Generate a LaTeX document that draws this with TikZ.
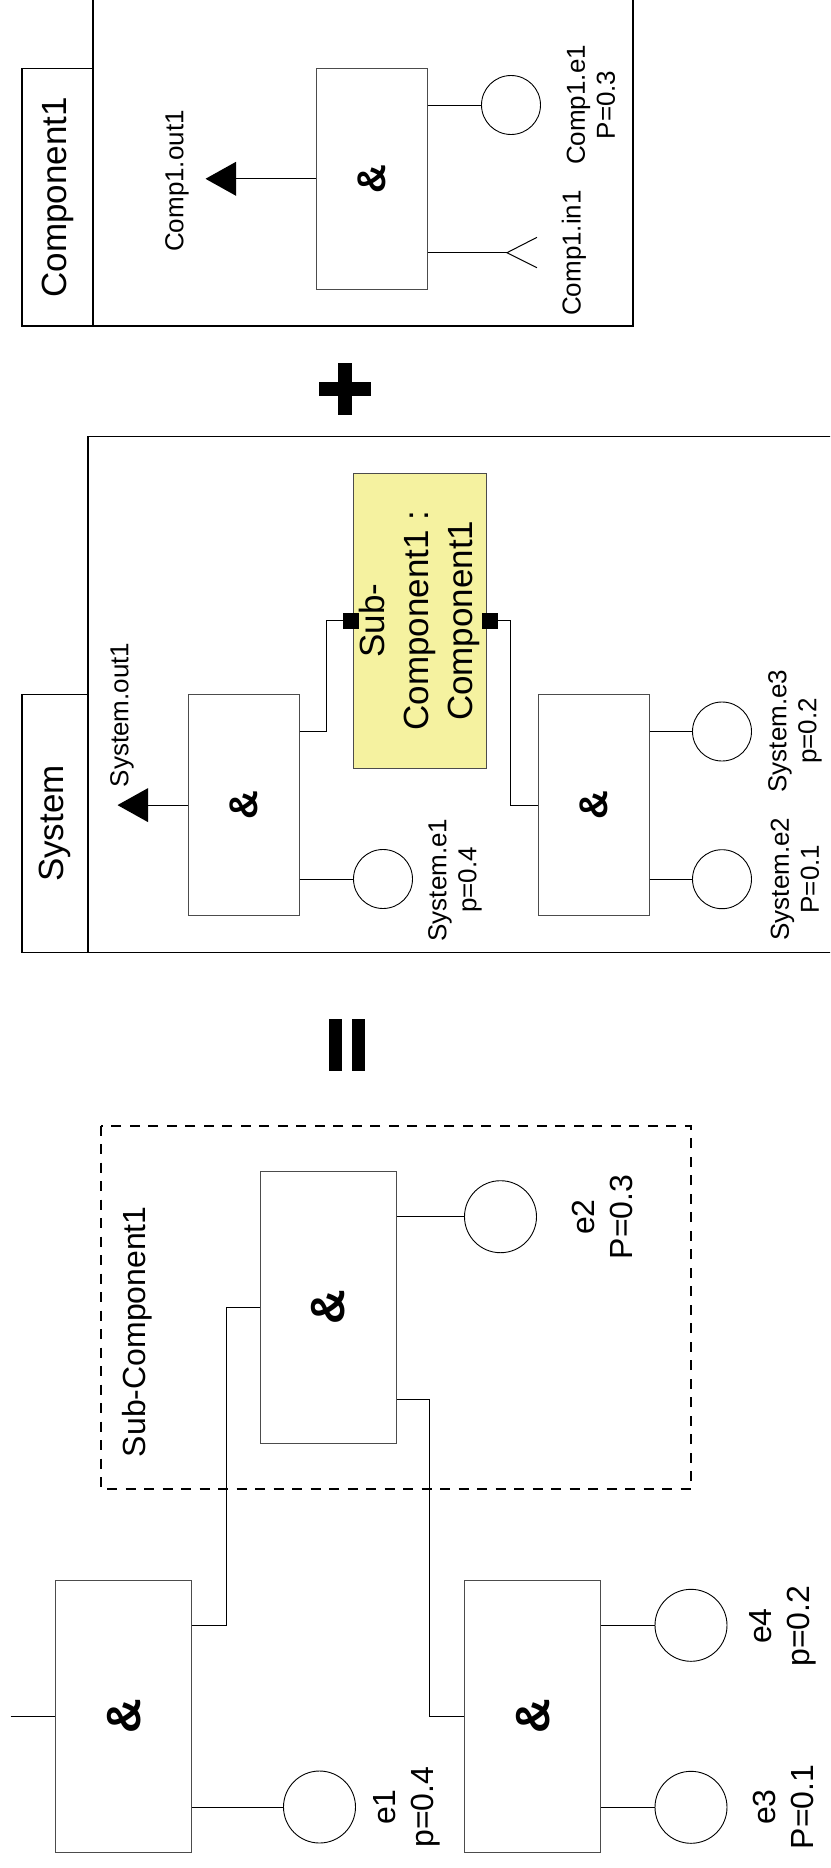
\documentclass[tikz,border=0pt]{standalone}
\usepackage{fontspec}
\setmainfont{Liberation Sans}
\usepackage{graphicx}
\definecolor{subyellow}{RGB}{245,242,160}
\begin{document}
\begin{tikzpicture}[x=1pt,y=-1pt,
  frm/.style={draw=black, line width=1.2pt},
  ttlbox/.style={draw=black, line width=1.2pt, rectangle, inner sep=0pt, font=\fontsize{35}{42}\selectfont},
  gate/.style={draw=black!70, line width=1pt, fill=white, rectangle, inner sep=0pt, minimum width=111pt, minimum height=221pt, font=\fontsize{40}{40}\selectfont\bfseries},
  biggate/.style={gate, minimum width=136pt, minimum height=272pt, font=\fontsize{48}{48}\selectfont\bfseries},
  evt/.style={circle, draw=black, line width=0.9pt, inner sep=0pt, minimum size=59pt},
  bigevt/.style={evt, minimum size=72pt},
  wire/.style={draw=black, line width=1pt},
  lbl/.style={rotate=90, align=center, inner sep=0pt, font=\fontsize{26}{30}\selectfont},
  lblbig/.style={lbl, font=\fontsize{32}{38}\selectfont},
  ttl/.style={rotate=90, inner sep=0pt, font=\fontsize{35}{42}\selectfont},
  port/.style={rectangle, fill=black, draw=black, minimum width=15pt, minimum height=15pt, inner sep=0pt},
  subbox/.style={rectangle, draw=black!70, line width=1pt, fill=subyellow, minimum width=133pt, minimum height=294.5pt, inner sep=0pt, align=center, font=\fontsize{35}{44}\selectfont},
]
\useasboundingbox (0,0) rectangle (830,1868);
\clip (0,0) rectangle (830,1868);

% ---------------- Component1 ----------------
\draw[frm] (93,-10) -- (93,326) -- (633,326) -- (633,-10);
\node[ttlbox, minimum width=71pt, minimum height=257.7pt] (c1t) at (57.5,197.2) {\rotatebox{90}{Component1}};
\node[gate] (c1g) at (371.5,178.8) {\rotatebox{90}{\&}};
\coordinate (c1tri) at (236,178.8);
\fill (205.5,178.8) -- (236,161.8) -- (236,195.8) -- cycle;
\draw[wire] (c1g.west) -- (c1tri);
\node[lbl] (c1outl) at (177,181) {Comp1.out1};
\node[evt] (c1e) at (511,105) {};
\draw[wire] (c1g.east |- c1e) -- (c1e.west);
\node[lbl] (c1el) at (591,105) {Comp1.e1\\P=0.3};
\coordinate (c1in) at (507,252.7);
\draw[wire] (c1g.east |- c1in) -- (c1in);
\draw[wire] (537,237.3) -- (c1in) -- (537,267.7);
\node[lbl] (c1inl) at (574,253) {Comp1.in1};

% ---------------- plus ----------------
\fill (319,381.5) rectangle (371,395.5);
\fill (338,362.5) rectangle (352,414.5);

% ---------------- System ----------------
\draw[frm] (840,436.5) -- (88,436.5) -- (88,952.2) -- (840,952.2);
\node[ttlbox, minimum width=66pt, minimum height=257.5pt] (st) at (55,823.5) {\rotatebox{90}{System}};
\node[gate] (sga) at (243.5,805.1) {\rotatebox{90}{\&}};
\coordinate (stri) at (148,805.1);
\fill (117.5,805.1) -- (148,788.1) -- (148,822.1) -- cycle;
\draw[wire] (sga.west) -- (stri);
\node[lbl] (soutl) at (122,715) {System.out1};
\node[evt] (se1) at (383,879) {};
\draw[wire] (sga.east |- se1) -- (se1.west);
\node[lbl] (se1l) at (455,880) {System.e1\\p=0.4};
\node[subbox] (sub) at (420,620.75) {\rotatebox{90}{\begin{tabular}{@{}c@{}}Sub-\\Component1 :\\Component1\end{tabular}}};
\node[port] (pl) at (351,620.7) {};
\node[port] (pr) at (489.5,620.7) {};
\node[gate] (sgb) at (593.5,805.1) {\rotatebox{90}{\&}};
\draw[wire] (sga.east |- 0,731) -| (326.7,620.7) -- (pl.west);
\draw[wire] (pr.east) -| (510.5,805.1) -- (sgb.west);
\node[evt] (se3) at (722,731.5) {};
\node[evt] (se2) at (722,879.2) {};
\draw[wire] (sgb.east |- se3) -- (se3.west);
\draw[wire] (sgb.east |- se2) -- (se2.west);
\node[lbl] (se3l) at (795,731) {System.e3\\p=0.2};
\node[lbl] (se2l) at (795,879) {System.e2\\P=0.1};

% ---------------- equals ----------------
\fill (329.3,1019.3) rectangle (342.3,1071);
\fill (351.7,1019.3) rectangle (365,1071);

% ---------------- expanded ----------------
\draw[line width=2pt, dash pattern=on 10pt off 8.5pt] (100.6,1125.7) rectangle (690.8,1489.3);
\node[ttl, font=\fontsize{32}{36}\selectfont] (subl) at (137.6,1331.7) {Sub-Component1};
\node[biggate] (g2) at (328.5,1307.5) {\rotatebox{90}{\&}};
\node[bigevt] (e2) at (500.5,1216.7) {};
\draw[wire] (g2.east |- e2) -- (e2.west);
\node[lblbig] (e2l) at (602,1217) {e2\\P=0.3};
\node[biggate] (g1) at (123.9,1716.35) {\rotatebox{90}{\&}};
\coordinate (inp) at (10.6,1716.35);
\draw[wire] (inp) -- (g1.west);
\node[bigevt] (e1) at (319.5,1807) {};
\draw[wire] (g1.east |- e1) -- (e1.west);
\node[lblbig] (e1l) at (407,1807) {e1\\p=0.4};
\node[biggate] (g3) at (532.8,1716.35) {\rotatebox{90}{\&}};
\node[bigevt] (e4) at (691,1625.3) {};
\node[bigevt] (e3) at (691,1807.3) {};
\draw[wire] (g3.east |- e4) -- (e4.west);
\draw[wire] (g3.east |- e3) -- (e3.west);
\node[lblbig] (e4l) at (783,1626) {e4\\p=0.2};
\node[lblbig] (e3l) at (783,1807) {e3\\P=0.1};
\draw[wire] (g1.east |- 0,1625) -| (226.6,1307.5) -- (g2.west);
\draw[wire] (g2.east |- 0,1399) -| (429.9,1716.35) -- (g3.west);
\end{tikzpicture}
\end{document}
